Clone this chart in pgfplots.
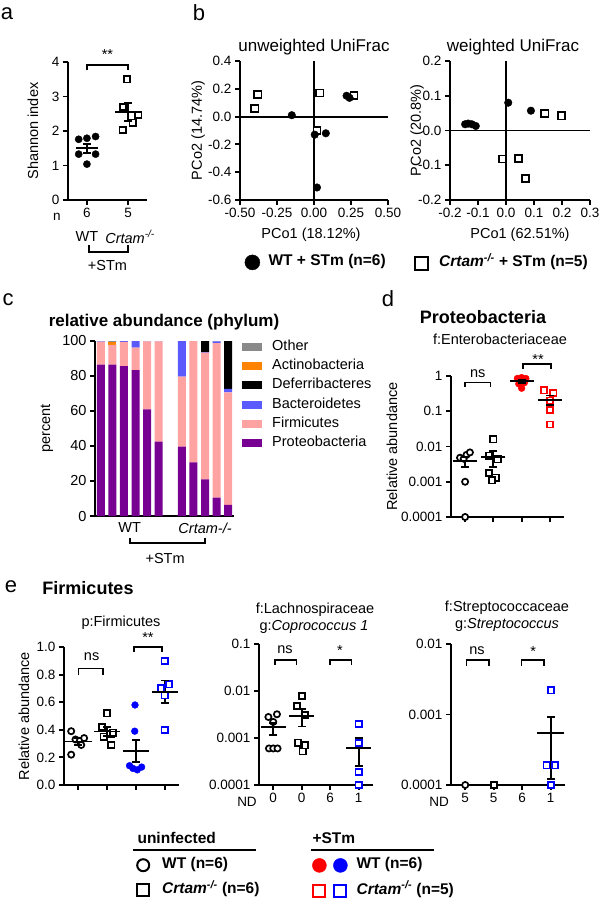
\documentclass[border=0pt]{standalone}
\usepackage{fontspec}
\setmainfont{Liberation Sans}
\usepackage{pgfplots}
\pgfplotsset{compat=1.18}

\newcommand{\fs}[1]{\fontsize{#1}{#1}\selectfont}
\definecolor{cProt}{HTML}{770092}
\definecolor{cFirm}{HTML}{FFA2A2}
\definecolor{cBact}{HTML}{5A5AFF}
\definecolor{cDef}{HTML}{000000}
\definecolor{cAct}{HTML}{FF8200}
\definecolor{cOth}{HTML}{8A8A8A}

\pgfplotsset{
  fig/.style={scale only axis, clip=false, anchor=south west,
    axis x line*=bottom, axis y line*=left, axis line style={-, line width=1.9pt},
    tick style={line width=1.9pt, black}, major tick length=5pt, minor tick length=0pt,
    tick align=outside,
    /pgf/number format/assume math mode=true,
    tick label style={font=\fs{13.5}}},
  pdot/.style={only marks, mark=*, mark size=3.4pt, color=#1},
  pdot/.default=black,
  pring/.style={only marks, mark=*, mark size=3.1pt, color=#1, mark options={fill=white, line width=1.7pt}},
  pring/.default=black,
  pbox/.style={only marks, mark=square*, mark size=3.1pt, color=#1, mark options={fill=white, line width=1.7pt}},
  pbox/.default=black,
  legax/.style={hide axis, scale only axis, width=2pt, height=2pt, xmin=0, xmax=1, ymin=0, ymax=1,
    anchor=north west, legend cell align=left,
    legend style={at={(0,1)}, anchor=north west, draw=none, fill=none, inner sep=0pt,
      nodes={inner sep=0pt, text height=10pt, text depth=3pt, font=\bfseries\fs{15.5}}}},
}
\tikzset{brk/.style={line width=1.6pt}}

% mean line and SEM whiskers: x, mean, low, high, half width
\newcommand{\msem}[5]{%
  \addplot[black, line width=1.9pt, mark=-, mark size=4pt, forget plot] coordinates {(#1,#3) (#1,#4)};
  \addplot[black, only marks, mark=-, mark size=#5, mark options={line width=1.9pt}, forget plot] coordinates {(#1,#2)};}

\begin{document}
\begin{tikzpicture}[font=\fs{14.5}]
\useasboundingbox (0pt,0pt) rectangle (601pt,-900pt);

\node[font=\fs{22}] at (7pt,-14pt) {a};
\node[font=\fs{22}] at (199pt,-13pt) {b};
\node[font=\fs{22}] at (8pt,-300pt) {c};
\node[font=\fs{22}] at (388pt,-299pt) {d};
\node[font=\fs{22}] at (11pt,-587pt) {e};

% ---------- a ----------
\begin{axis}[fig, at={(68pt,-200pt)}, width=79pt, height=138pt,
  xmin=0.54, xmax=2.46, ymin=0, ymax=4, ytick={0,1,2,3,4}, xtick={1,2}, xticklabels={6,5}]
\addplot[pdot, mark size=3.6pt] coordinates {(0.8,1.76) (1.0,1.79) (1.21,1.84) (0.8,1.33) (1.21,1.33) (1.0,1.04)};
\addplot[pbox] coordinates {(1.98,3.5) (1.88,2.69) (2.25,2.46) (2.11,2.24) (1.87,2.03)};
\msem{1}{1.50}{1.37}{1.63}{11pt}
\msem{2}{2.55}{2.30}{2.81}{13pt}
\draw[brk] (axis cs:1,3.77) -- (axis cs:1,3.91) -- (axis cs:2,3.91) -- (axis cs:2,3.77);
\node at (axis cs:1.5,4.22) {**};
\node[font=\fs{13.5}] at ([xshift=-11pt,yshift=-17pt]rel axis cs:0,0) {n};
\node at ([yshift=-37pt]axis cs:1,0) {WT};
\node at ([xshift=2pt,yshift=-37pt]axis cs:2,0) {\textit{Crtam}\textsuperscript{\textit{-/-}}};
\draw[brk] ([yshift=-45pt]axis cs:1.05,0) -- ([yshift=-52pt]axis cs:1.05,0) -- ([yshift=-52pt]axis cs:2,0) -- ([yshift=-45pt]axis cs:2,0);
\node at ([yshift=-66pt]axis cs:1.5,0) {+STm};
\node[rotate=90] at ([xshift=-35pt]rel axis cs:0,0.5) {Shannon index};
\end{axis}

% ---------- b unweighted ----------
\begin{axis}[fig, at={(240pt,-200pt)}, width=148pt, height=139pt,
  xmin=-0.5, xmax=0.5, ymin=-0.6, ymax=0.4,
  xtick={-0.5,-0.25,0,0.25,0.5}, ytick={-0.6,-0.4,-0.2,0,0.2,0.4},
  xticklabel style={/pgf/number format/.cd, fixed, fixed zerofill, precision=2},
  yticklabel style={/pgf/number format/.cd, fixed, fixed zerofill, precision=1},
  extra x ticks={0}, extra y ticks={0}, extra x tick labels={}, extra y tick labels={},
  extra tick style={grid=major}, major grid style={black, line width=1.9pt}]
\addplot[pbox, mark size=3.6pt] coordinates {(-0.40,0.06) (-0.38,0.16) (0.04,0.17) (0.27,0.15) (0.02,-0.10)};
\addplot[pdot, mark size=3.8pt] coordinates {(-0.15,0.01) (0.22,0.15) (0.24,0.135) (0.005,-0.13) (0.08,-0.12) (0.02,-0.51)};
\node[font=\fs{17}] at ([yshift=14pt]rel axis cs:0.5,1) {unweighted UniFrac};
\node[rotate=90] at ([xshift=-42pt]rel axis cs:0,0.5) {PCo2 (14.74\%)};
\node at ([yshift=-35pt]rel axis cs:0.48,0) {PCo1 (18.12\%)};
\end{axis}

% ---------- b weighted ----------
\begin{axis}[fig, at={(450pt,-200pt)}, width=140pt, height=139pt,
  xmin=-0.2, xmax=0.3, ymin=-0.2, ymax=0.2,
  xtick={-0.2,-0.1,0,0.1,0.2,0.3}, ytick={-0.2,-0.1,0,0.1,0.2},
  xticklabel style={/pgf/number format/.cd, fixed, fixed zerofill, precision=1},
  yticklabel style={/pgf/number format/.cd, fixed, fixed zerofill, precision=1},
  extra x ticks={0}, extra y ticks={0}, extra x tick labels={}, extra y tick labels={},
  extra tick style={grid=major}, major grid style={black, line width=1.9pt}]
\addplot[pbox, mark size=3.6pt] coordinates {(0.139,0.049) (0.199,0.042) (-0.013,-0.082) (0.044,-0.08) (0.07,-0.138)};
\addplot[pdot, mark size=3.8pt] coordinates {(-0.146,0.018) (-0.135,0.02) (-0.122,0.018) (-0.108,0.013) (0.008,0.08) (0.089,0.057)};
\node[font=\fs{17}] at ([yshift=14pt]rel axis cs:0.45,1) {weighted UniFrac};
\node[rotate=90] at ([xshift=-33pt]rel axis cs:0,0.5) {PCo2 (20.8\%)};
\node at ([yshift=-35pt]rel axis cs:0.5,0) {PCo1 (62.51\%)};
\end{axis}

% b legend
\begin{axis}[legax, at={(244.5pt,-254.5pt)}, legend style={column sep=8.5pt}]
\addlegendimage{legend image code/.code={\fill[black] (0pt,0pt) circle (7.5pt);}}
\addlegendentry{WT + STm (n=6)}
\end{axis}
\begin{axis}[legax, at={(413.5pt,-255.5pt)}, legend style={column sep=10.5pt}]
\addlegendimage{legend image code/.code={\draw[black, line width=2pt] (-6.5pt,-6.5pt) rectangle (6.5pt,6.5pt);}}
\addlegendentry{\textit{Crtam}\textsuperscript{\textit{-/-}} + STm (n=5)}
\end{axis}

% ---------- c ----------
\node[font=\bfseries\fs{17}] at (164pt,-322pt) {relative abundance (phylum)};
\begin{axis}[fig, at={(95pt,-516pt)}, width=139pt, height=175pt,
  ybar stacked, bar width=8pt, xmin=0.5, xmax=12.5, ymin=0, ymax=100,
  ytick={0,20,40,60,80,100}, xtick=\empty, reverse legend, legend cell align=left,
  legend image code/.code={\fill[#1] (0pt,-4pt) rectangle (20pt,4pt);},
  tick label style={font=\fs{14.5}},
  legend style={at={(1.0576,1.0046)}, anchor=north west, draw=none, fill=none, inner sep=0pt,
    row sep=6.2pt, column sep=10pt, nodes={inner sep=0pt, text height=10pt, text depth=3pt, font=\fs{14.5}}}]
\addplot[fill=cProt, draw=none] coordinates {(1,86.5) (2,86.5) (3,85.7) (4,83.4) (5,61) (6,42.5) (8,39.6) (9,30.7) (10,21) (11,10.5) (12,6.3)};
\addlegendentry{Proteobacteria}
\addplot[fill=cFirm, draw=none] coordinates {(1,13.2) (2,11.3) (3,13.8) (4,12.8) (5,38.8) (6,57.3) (8,40) (9,69.2) (10,72.3) (11,88.3) (12,64.4)};
\addlegendentry{Firmicutes}
\addplot[fill=cBact, draw=none] coordinates {(1,0.3) (2,0) (3,0.5) (4,3.8) (5,0.2) (6,0.2) (8,20.4) (9,0.1) (10,0.3) (11,1.0) (12,1.9)};
\addlegendentry{Bacteroidetes}
\addplot[fill=cDef, draw=none] coordinates {(1,0) (2,0) (3,0) (4,0) (5,0) (6,0) (8,0) (9,0) (10,6.4) (11,0) (12,27.4)};
\addlegendentry{Deferribacteres}
\addplot[fill=cAct, draw=none] coordinates {(1,0) (2,1.7) (3,0) (4,0) (5,0) (6,0) (8,0) (9,0) (10,0) (11,0) (12,0)};
\addlegendentry{Actinobacteria}
\addplot[fill=cOth, draw=none] coordinates {(1,0) (2,0.5) (3,0) (4,0) (5,0) (6,0) (8,0) (9,0) (10,0) (11,0.2) (12,0)};
\addlegendentry{Other}
\node at ([yshift=-12pt]axis cs:3.5,0) {WT};
\node at ([yshift=-12pt]axis cs:10,0) {\textit{Crtam-/-}};
\draw[brk] ([yshift=-22pt]axis cs:3.52,0) -- ([yshift=-27pt]axis cs:3.52,0) -- ([yshift=-27pt]axis cs:10,0) -- ([yshift=-22pt]axis cs:10,0);
\node at ([yshift=-42pt]axis cs:6.55,0) {+STm};
\node[rotate=90] at ([xshift=-48pt]rel axis cs:0,0.5) {percent};
\end{axis}

% ---------- d ----------
\node[font=\bfseries\fs{18}] at (483pt,-317pt) {Proteobacteria};
\node[font=\fs{14.5}] at (500pt,-339pt) {f:Enterobacteriaceae};
\begin{axis}[fig, at={(451pt,-517pt)}, width=113pt, height=141pt, ymode=log,
  xmin=0.5, xmax=4.5, ymin=1e-4, ymax=1, ytick={1e-4,1e-3,1e-2,1e-1,1},
  yticklabels={0.0001,0.001,0.01,0.1,1}, xtick={1,2,3,4}, xticklabels={}]
\addplot[pring] coordinates {(0.82,0.0048) (0.95,0.0045) (1.05,0.0058) (1.17,0.0068) (1.0,0.001) (1.0,0.0001)};
\addplot[pbox] coordinates {(2.0,0.016) (1.85,0.0055) (2.15,0.0043) (1.85,0.0018) (2.08,0.0013) (1.95,0.0011)};
\addplot[pdot=red] coordinates {(2.85,0.85) (3.0,0.9) (3.15,0.85) (2.9,0.6) (3.1,0.65) (3.0,0.45)};
\addplot[pbox=red] coordinates {(3.8,0.39) (4.12,0.33) (4.0,0.2) (4.0,0.107) (4.0,0.042)};
\msem{1}{0.0038}{0.0027}{0.0049}{12pt}
\msem{2}{0.0050}{0.0027}{0.0073}{12pt}
\msem{3}{0.72}{0.64}{0.79}{12pt}
\msem{4}{0.214}{0.149}{0.279}{12pt}
\draw[brk] (axis cs:1,0.5) -- (axis cs:1,0.65) -- (axis cs:1.9,0.65) -- (axis cs:1.9,0.5);
\node at (axis cs:1.45,1.2) {ns};
\draw[brk] (axis cs:3.05,1.58) -- (axis cs:3.05,2.2) -- (axis cs:4.05,2.2) -- (axis cs:4.05,1.58);
\node at (axis cs:3.58,3.0) {**};
\node[rotate=90] at ([xshift=-59pt]rel axis cs:0,0.5) {Relative abundance};
\end{axis}

% ---------- e1 ----------
\node[font=\bfseries\fs{18}] at (88pt,-588pt) {Firmicutes};
\node[font=\fs{14.5}] at (121pt,-623pt) {p:Firmicutes};
\begin{axis}[fig, at={(64pt,-785pt)}, width=115pt, height=138pt,
  xmin=0.5, xmax=4.5, ymin=0, ymax=1, ytick={0,0.2,0.4,0.6,0.8,1},
  yticklabel style={/pgf/number format/.cd, fixed, fixed zerofill, precision=1},
  xtick={1,2,3,4}, xticklabels={}]
\addplot[pring] coordinates {(0.75,0.39) (0.9,0.33) (1.05,0.32) (1.2,0.34) (1.1,0.29) (0.75,0.22)};
\addplot[pbox] coordinates {(1.83,0.42) (1.88,0.35) (2.12,0.37) (2.2,0.38) (2.15,0.29) (2.0,0.52)};
\addplot[pdot=blue] coordinates {(2.97,0.58) (2.96,0.39) (2.78,0.14) (2.9,0.12) (3.05,0.11) (3.2,0.13)};
\addplot[pbox=blue] coordinates {(4.0,0.90) (4.15,0.73) (3.88,0.70) (4.0,0.65) (4.0,0.40)};
\msem{1}{0.315}{0.29}{0.34}{14pt}
\msem{2}{0.388}{0.357}{0.419}{13pt}
\msem{3}{0.245}{0.165}{0.325}{13pt}
\msem{4}{0.676}{0.595}{0.757}{13pt}
\draw[brk] (axis cs:1,0.80) -- (axis cs:1,0.845) -- (axis cs:1.85,0.845) -- (axis cs:1.85,0.80);
\node at (axis cs:1.46,0.93) {ns};
\draw[brk] (axis cs:2.93,0.965) -- (axis cs:2.93,1.0) -- (axis cs:3.9,1.0) -- (axis cs:3.9,0.965);
\node at (axis cs:3.42,1.07) {**};
\node[rotate=90] at ([xshift=-40pt]rel axis cs:0,0.5) {Relative abundance};
\end{axis}

% ---------- e2 ----------
\node[font=\fs{14.5}] at (315pt,-610pt) {f:Lachnospiraceae};
\node[font=\fs{14.5}] at (314pt,-627pt) {g:\textit{Coprococcus 1}};
\begin{axis}[fig, at={(259pt,-785pt)}, width=114pt, height=141pt, ymode=log,
  xmin=0.5, xmax=4.5, ymin=1e-4, ymax=0.1, ytick={1e-4,1e-3,1e-2,1e-1},
  yticklabels={0.0001,0.001,0.01,0.1}, xtick={1,2,3,4}, xticklabels={0,0,6,1}]
\addplot[pring] coordinates {(0.83,0.0028) (1.13,0.0032) (1.0,0.0022) (0.85,0.0006) (1.0,0.0006) (1.15,0.0006)};
\addplot[pbox] coordinates {(2.01,0.0078) (1.83,0.0048) (2.11,0.0031) (1.87,0.0008) (2.03,0.00052) (2.12,0.0007)};
\addplot[pbox=blue] coordinates {(4.0,0.002) (4.0,0.00078) (4.0,0.00019) (4.0,0.0001)};
\msem{1}{0.0017}{0.00114}{0.00212}{12.5pt}
\msem{2}{0.0029}{0.00176}{0.00414}{12.5pt}
\msem{4}{0.00062}{0.00025}{0.001}{12.5pt}
\draw[brk] (axis cs:1.06,0.036) -- (axis cs:1.06,0.046) -- (axis cs:1.82,0.046) -- (axis cs:1.82,0.036);
\node at (axis cs:1.41,0.075) {ns};
\draw[brk] (axis cs:3.0,0.036) -- (axis cs:3.0,0.046) -- (axis cs:3.75,0.046) -- (axis cs:3.75,0.036);
\node at (axis cs:3.34,0.072) {*};
\node[font=\fs{13.5}] at ([xshift=-12pt,yshift=-17pt]rel axis cs:0,0) {ND};
\end{axis}

% ---------- e3 ----------
\node[font=\fs{14.5}] at (507pt,-608pt) {f:Streptococcaceae};
\node[font=\fs{14.5}] at (507pt,-625pt) {g:\textit{Streptococcus}};
\begin{axis}[fig, at={(451pt,-785pt)}, width=114pt, height=141pt, ymode=log,
  xmin=0.5, xmax=4.5, ymin=1e-4, ymax=0.01, ytick={1e-4,1e-3,1e-2},
  yticklabels={0.0001,0.001,0.01}, xtick={1,2,3,4}, xticklabels={5,5,6,1}]
\addplot[pring] coordinates {(1.0,0.0001)};
\addplot[pbox] coordinates {(2.0,0.0001)};
\addplot[pbox=blue] coordinates {(4.0,0.0022) (3.85,0.00019) (4.15,0.00019) (4.0,0.0001)};
\msem{4}{0.00054}{0.00012}{0.00093}{13.5pt}
\draw[brk] (axis cs:1.05,0.0049) -- (axis cs:1.05,0.0059) -- (axis cs:1.84,0.0059) -- (axis cs:1.84,0.0049);
\node at (axis cs:1.41,0.008) {ns};
\draw[brk] (axis cs:2.98,0.0049) -- (axis cs:2.98,0.0059) -- (axis cs:3.76,0.0059) -- (axis cs:3.76,0.0049);
\node at (axis cs:3.38,0.0078) {*};
\node[font=\fs{13.5}] at ([xshift=-12pt,yshift=-17pt]rel axis cs:0,0) {ND};
\end{axis}

% ---------- bottom legend ----------
\node[font=\bfseries\fs{15.5}, anchor=west] at (134pt,-838pt) {uninfected};
\draw[line width=1.8pt] (132.7pt,-850pt) -- (255.8pt,-850pt);
\node[font=\bfseries\fs{15.5}, anchor=west] at (309pt,-838pt) {+STm};
\draw[line width=1.8pt] (310.8pt,-850pt) -- (433.8pt,-850pt);
\begin{axis}[legax, at={(136pt,-858pt)}, legend style={column sep=12pt, row sep=11pt}]
\addlegendimage{legend image code/.code={\draw[black, line width=2pt] (6pt,0pt) circle (6pt);}}
\addlegendentry{WT (n=6)}
\addlegendimage{legend image code/.code={\draw[black, line width=2pt] (0pt,-6pt) rectangle (12pt,6pt);}}
\addlegendentry{\textit{Crtam}\textsuperscript{\textit{-/-}} (n=6)}
\end{axis}
\begin{axis}[legax, at={(312pt,-858pt)}, legend style={column sep=9pt, row sep=11pt}]
\addlegendimage{legend image code/.code={\fill[red] (7pt,0pt) circle (7pt); \fill[blue] (28pt,0pt) circle (7pt);}}
\addlegendentry{WT (n=6)}
\addlegendimage{legend image code/.code={\draw[red, line width=2pt] (1pt,-6pt) rectangle (13pt,6pt); \draw[blue, line width=2pt] (22pt,-6pt) rectangle (34pt,6pt);}}
\addlegendentry{\textit{Crtam}\textsuperscript{\textit{-/-}} (n=5)}
\end{axis}
\end{tikzpicture}
\end{document}
